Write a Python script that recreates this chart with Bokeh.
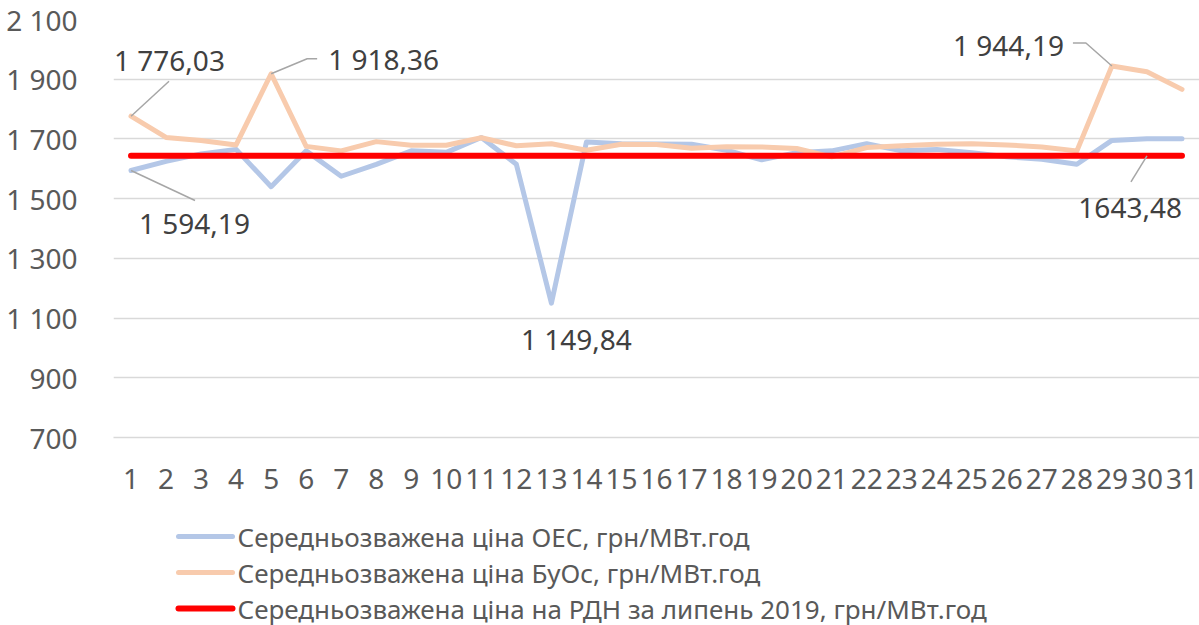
from bokeh.plotting import figure
from bokeh.layouts import column
from bokeh.models import FixedTicker, Range1d
from bokeh.embed import file_html
from bokeh.resources import INLINE
from bokeh.core.properties import value

# ---------------- data ----------------
days = list(range(1, 32))
oes = [1594.19, 1625, 1650, 1665, 1540, 1660, 1575, 1615, 1660, 1655,
       1705, 1615, 1149.84, 1690, 1684, 1683, 1682, 1662, 1630, 1654,
       1660, 1684, 1660, 1665, 1654, 1640, 1632, 1615, 1695, 1701, 1701]
buos = [1776.03, 1705, 1695, 1680, 1918.36, 1675, 1660, 1691, 1679, 1679,
        1704, 1677, 1684, 1662, 1682, 1681, 1669, 1674, 1673, 1668,
        1640, 1671, 1677, 1682, 1684, 1680, 1673, 1660, 1944.19, 1925, 1866]
rdn_value = 1643.48
rdn = [rdn_value] * len(days)

y_ticks = [700, 900, 1100, 1300, 1500, 1700, 1900, 2100]
y_tick_labels = ["700", "900", "1 100", "1 300", "1 500", "1 700", "1 900", "2 100"]

series_names = [
    "Середньозважена ціна ОЕС, грн/МВт.год",
    "Середньозважена ціна БуОс, грн/МВт.год",
    "Середньозважена ціна на РДН за липень 2019, грн/МВт.год",
]
series_colors = ["#B4C7E7", "#F8CBAD", "#FF0000"]
series_widths = [5, 5, 6]

# data labels: (series, day, text)
label_series = ["buos", "buos", "oes", "oes", "buos", "rdn"]
label_days = [1, 5, 1, 13, 29, 30]
label_texts = ["1 776,03", "1 918,36", "1 594,19", "1 149,84", "1 944,19", "1643,48"]

# ---------------- layout ----------------
W = 1199
H1, H2 = 513, 112
BL, BR, BT, BB = 113, 0, 19, 76
X0, X1 = 0.5, 31.5
Y0, Y1 = 700, 2100
frame_w = W - BL - BR
frame_h = H1 - BT - BB
sx = frame_w / (X1 - X0)
sy = frame_h / (Y1 - Y0)

FONT = "Noto Sans"
TXT = "28px"

p = figure(width=W, height=H1, output_backend="svg", toolbar_location=None,
           x_range=Range1d(X0, X1), y_range=Range1d(Y0, Y1),
           min_border_left=BL, min_border_right=BR, min_border_top=BT,
           min_border_bottom=BB)
p.outline_line_color = None
p.background_fill_color = "white"
p.border_fill_color = "white"

p.xgrid.grid_line_color = None
p.ygrid.grid_line_color = "#D9D9D9"
p.ygrid.grid_line_width = 1.5

p.yaxis.ticker = FixedTicker(ticks=y_ticks)
p.yaxis.major_label_overrides = {t: l for t, l in zip(y_ticks, y_tick_labels)}
p.yaxis.axis_line_color = None
p.yaxis.major_tick_line_color = None
p.yaxis.minor_tick_line_color = None
p.yaxis.major_label_standoff = 30
p.yaxis.major_label_text_font = FONT
p.yaxis.major_label_text_font_size = TXT
p.yaxis.major_label_text_color = "#595959"

p.xaxis.ticker = FixedTicker(ticks=days)
p.xaxis.axis_line_color = "#D9D9D9"
p.xaxis.axis_line_width = 1.5
p.xaxis.major_tick_line_color = None
p.xaxis.minor_tick_line_color = None
p.xaxis.major_label_standoff = 25
p.xaxis.major_label_text_font = FONT
p.xaxis.major_label_text_font_size = TXT
p.xaxis.major_label_text_color = "#595959"

p.line(days, oes, line_color=series_colors[0], line_width=series_widths[0],
       line_join="round", line_cap="round")
p.line(days, buos, line_color=series_colors[1], line_width=series_widths[1],
       line_join="round", line_cap="round")
p.line(days, rdn, line_color=series_colors[2], line_width=series_widths[2], line_cap="round")

series_vals = {"oes": oes, "buos": buos, "rdn": rdn}

# label offsets (screen px, y down) and leader polylines (px offsets from point)
offsets = [(-17, -56, "left"), (57, -15, "left"), (8, 52, "left"),
           (25, 36, "center"), (-48, -21, "right"), (35, 52, "right")]
leaders = [[(0, 0), (38, -35)],
           [(0, 0), (36, -15), (46, -15)],
           [(0, 0), (64, 30)],
           None,
           [(0, 0), (-26, -23), (-39, -23)],
           [(0, 0), (-16, 26)]]

xs_l, ys_l = [], []
for s, d, txt, (ox, oy, al), ld in zip(label_series, label_days, label_texts, offsets, leaders):
    v = series_vals[s][d - 1]
    p.text(x=[d], y=[v], text=[txt], x_offset=ox, y_offset=oy, text_align=al,
           text_baseline="middle", text_font=value(FONT), text_font_size=TXT,
           text_color="#404040")
    if ld:
        xs_l.append([d + a / sx for a, b in ld])
        ys_l.append([v - b / sy for a, b in ld])
p.multi_line(xs_l, ys_l, line_color="#A6A6A6", line_width=1.5)

# ---------------- legend strip ----------------
# In a column Bokeh aligns the frames, so this strip's frame spans the main frame's width;
# its x range is set so that one unit equals one page pixel.
lg = figure(width=W, height=H2, output_backend="svg", toolbar_location=None,
            x_range=Range1d(BL, W - BR), y_range=Range1d(H2, 0),
            min_border_left=0, min_border_right=0, min_border_top=0, min_border_bottom=0,
            x_axis_location=None, y_axis_location=None)
lg.outline_line_color = None
lg.xgrid.grid_line_color = None
lg.ygrid.grid_line_color = None
lg.background_fill_color = "white"
lg.border_fill_color = "white"

LEG_X0, LEG_GLYPH_W, LEG_STANDOFF = 178, 54, 5
LEG_ROW0, LEG_ROW_H = 23, 36
for i, (name, c, w) in enumerate(zip(series_names, series_colors, series_widths)):
    yy = LEG_ROW0 + i * LEG_ROW_H
    lg.segment(x0=[LEG_X0], y0=[yy], x1=[LEG_X0 + LEG_GLYPH_W], y1=[yy],
               line_color=c, line_width=w, line_cap="round")
    lg.text(x=[LEG_X0 + LEG_GLYPH_W + LEG_STANDOFF], y=[yy], text=[name],
            text_align="left", text_baseline="middle", text_font=value(FONT),
            text_font_size="26px", text_color="#595959")

layout = column(p, lg, spacing=0)
open("out.html", "w").write(file_html(layout, INLINE))
